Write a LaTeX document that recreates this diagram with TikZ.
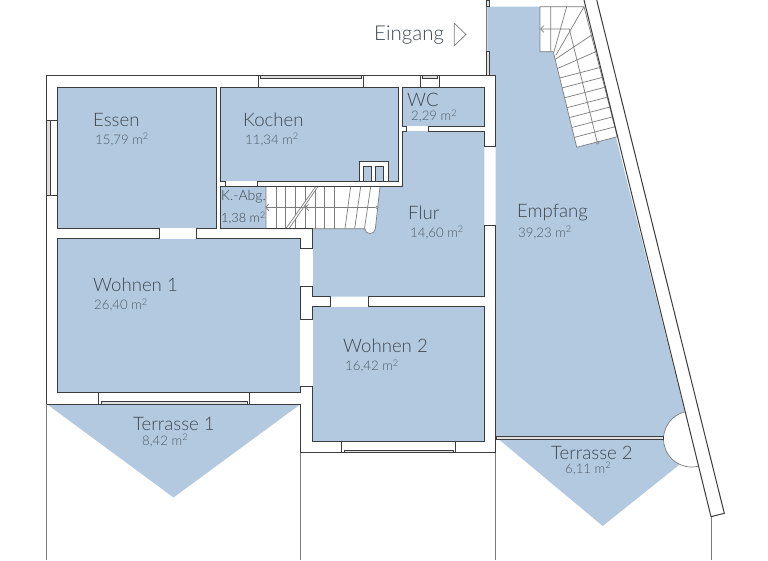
\documentclass[tikz,border=0pt]{standalone}
\usepackage{fontspec}
\setmainfont{Lato Light}
\definecolor{roomblue}{HTML}{B2C9DF}
\definecolor{wallgray}{HTML}{3C3C3C}
\definecolor{stepgray}{HTML}{7D7D7D}
\definecolor{namegray}{HTML}{3F4750}
\definecolor{areagray}{HTML}{4F5B68}
\tikzset{
  room/.style={fill=roomblue,draw=wallgray,line width=1pt},
  terrace/.style={fill=roomblue,draw=none},
  wallline/.style={draw=wallgray,line width=1pt},
  thinline/.style={draw=stepgray,line width=.7pt},
  stepline/.style={draw=stepgray,line width=.7pt},
  glass/.style={fill=gray!25,draw=wallgray,line width=.6pt},
  doorgap/.style={fill=white,draw=none},
  roomname/.style={text=namegray,font=\fontsize{18.6}{20}\selectfont,inner sep=0pt,anchor=west},
  roomarea/.style={text=areagray,font=\fontsize{13.2}{15}\selectfont,inner sep=0pt,anchor=west},
  flightdot/.style={circle,draw=stepgray,fill=stepgray!50,inner sep=0pt,minimum size=3pt},
}
\newcommand{\qm}{m\textsuperscript{2}}
\begin{document}
\begin{tikzpicture}[x=1pt,y=-1pt,line join=miter,>=stealth]
    \useasboundingbox (0,0) rectangle (768,560);
    % outside lines
    \draw[thinline] (46.7,404)--(46.7,560) (300.7,453)--(300.7,560) (495.7,453)--(495.7,560) (711,516.7)--(711,560);
    % terraces and hall
    \fill[terrace] (46.7,404)--(300.7,404)--(173.5,497.5)--cycle;
    \fill[terrace] (496,437)--(670,437)--(681,463.4)--(602.7,526)--cycle;
    \fill[terrace] (487.3,6.7)--(583.3,6.7)--(691.5,439)--(670,437)--(495.7,437)--(495.7,75.3)--(487.3,75.3)--cycle;
    % rooms
    \draw[room] (57.7,87) rectangle (216.7,228.7);
    \draw[room] (220.7,87) rectangle (398.3,181.3);
    \draw[room] (402.3,87) rectangle (484.3,126.3);
    \draw[room] (220.7,186) rectangle (266,228.7);
    \draw[room] (57.7,238.3) rectangle (300.7,392.7);
    \draw[room] (312.3,306) rectangle (484.3,441.3);
    \fill[roomblue] (402.3,131)--(484.3,131)--(484.3,296.7)--(312.3,296.7)--(312.3,186)--(402.3,186)--cycle;
    % door gaps
    \fill[doorgap] (159.8,228) rectangle (196.2,239);
    \fill[doorgap] (225.5,180.6) rectangle (256.8,186);
    \fill[doorgap] (406.5,125.6) rectangle (427.8,131);
    \fill[doorgap] (331.2,296.7) rectangle (367.8,306.7);
    \fill[doorgap] (300,249.2) rectangle (313,285.5);
    \fill[doorgap] (300,319.8) rectangle (313,386.2);
    % stairs flur
    \filldraw[fill=white,draw=stepgray,line width=.7pt] (266,186.5)--(380,186.5)--(375.3,229) .. controls (375,235) and (365,235) .. (365,229)--(365,228.7)--(266,228.7)--cycle;
    \foreach \sx in {276,285.5,295,305,315.5,324.7,334.7}
      \draw[stepline] (\sx,186.5)--(\sx,228.5);
    \draw[stepline] (350.7,186.5)--(345,228.5) (360.7,186.5)--(354.7,228.5) (370.7,186.5)--(364.5,228.5);
    \fill[white] (315.7,186.5)--(318,186.5)--(289,228.5)--(286,228.5)--cycle;
    \draw[stepline] (315.7,186.5)--(286,228.5) (318,186.5)--(289,228.5);
    \coordinate (flurend) at (377,207.3);
    \coordinate (flurtip) at (266,207.3);
    \node[flightdot] (flurdot) at (flurend) {};
    \draw[stepline] (flurdot)--(flurtip);
    \draw[stepline] (268.7,204)--(flurtip)--(268.7,210.6) (308.7,204)--(305.7,207.3)--(308.7,210.6);
    % walls of the hall
    \draw[wallline] (46.7,404)--(46.7,75.3)--(495.7,75.3)--(495.7,146)--(484.3,146)--(484.3,131)--(428.3,131)--(428.3,126.3);
    \draw[wallline] (406,126.3)--(406,131)--(402.3,131)--(402.3,186)--(257.3,186)--(257.3,181.3);
    \draw[wallline] (225,181.3)--(225,186)--(220.7,186);
    \draw[wallline] (46.7,404)--(300.7,404)--(300.7,452.7)--(495.7,452.7)--(495.7,225)--(484.3,225)--(484.3,296.7)--(368.3,296.7)--(368.3,306);
    \draw[wallline] (330.7,306)--(330.7,296.7)--(312.3,296.7)--(312.3,286)--(300.7,286)--(300.7,319.3)--(312.3,319.3);
    \draw[wallline] (300.7,392.7)--(300.7,386.7)--(312.3,386.7)--(312.3,392.7);
    \draw[wallline] (300.7,238.3)--(300.7,248.7)--(312.3,248.7)--(312.3,228.7)--(266,228.7);
    \draw[wallline] (159.3,228.7)--(159.3,238.3);
    \draw[wallline] (196.7,228.7)--(196.7,238.3);
    % chimney
    \filldraw[fill=white,draw=wallgray,line width=1pt] (359.3,181.3)--(359.3,161.7)--(388,161.7)--(388,181.3);
    \draw[wallline,fill=roomblue] (363.3,166) rectangle (371.5,181.3);
    \draw[wallline,fill=roomblue] (375.3,166) rectangle (383.7,181.3);
    % windows
    \draw[wallline] (57.7,120)--(46.7,120) (57.7,195)--(46.7,195);
    \draw[glass] (46.7,120) rectangle (50,195);
    \draw[wallline] (258,75.3)--(258,87) (363.3,75.3)--(363.3,87);
    \draw[glass] (260,75.3) rectangle (361,78);
    \draw[wallline] (420,75.3)--(420,87) (439,75.3)--(439,87);
    \draw[glass] (422,75.3) rectangle (437,78);
    \draw[wallline] (98.3,392.7)--(98.3,404) (249,392.7)--(249,404);
    \draw[glass] (101,401.5) rectangle (247,404);
    \draw[wallline] (341.7,441.3)--(341.7,452.7) (455,441.3)--(455,452.7);
    \draw[glass] (344,450.3) rectangle (453,452.7);
    % terrace door
    \begin{scope}
      \clip (584,0)--(711,516.7)--(400,516.7)--(400,0)--cycle;
      \filldraw[fill=white,draw=stepgray,line width=.7pt] (691.5,439) circle (28);
    \end{scope}
    \draw[glass,line width=.8pt] (496,436.7) rectangle (663.3,439.5);
    % diagonal wall
    \fill[white] (583,0)--(596.7,0)--(724.3,513.3)--(711,516.7)--cycle;
    % upper stairs
    \filldraw[fill=white,draw=stepgray,line width=.7pt] (540,6.7)--(584,6.7)--(617.3,136.7)--(576.7,147.3)--(553.3,51.7)--(540,51.7)--cycle;
    \draw[stepline] (550.7,6.7)--(550.7,51.7) (566.7,6.7)--(554,51.7) (584,6.7)--(556,55)
      (591.7,35)--(555.3,59.3) (595.7,51.7)--(558,68.3);
    \foreach \k in {1,...,7}
      \draw[stepline] (576.7-\k*2.43,147.3-\k*9.9)--+(40.6,-10.6);
    \coordinate (stairend) at (597.3,142.7);
    \coordinate (stairbend) at (569.3,29);
    \coordinate (stairtip) at (540.7,29);
    \node[flightdot] (stairdot) at (stairend) {};
    \draw[stepline] (stairdot)--(stairbend)--(stairtip);
    \draw[stepline] (543.7,25.7)--(stairtip)--(543.7,32.3);
    \draw[wallline] (584,0)--(711,516.7)--(724.3,513.3)--(596.7,0);
    % entrance door
    \draw[thinline] (486.8,6.7)--(486.8,51.7);
    \draw[glass,line width=.8pt] (486.8,0) rectangle (489.7,6.7);
    \draw[glass,line width=.8pt] (486.8,51.7) rectangle (489.7,75.3);
    % labels
    \node[roomname] (essen) at (93,120) {Essen};
    \node[roomarea] (essenarea) at (95,139.5) {15,79 \qm};
    \node[roomname] (kochen) at (243,120) {Kochen};
    \node[roomarea] (kochenarea) at (245,139.5) {11,34 \qm};
    \node[roomname] (wc) at (407,99.5) {WC};
    \node[roomarea] (wcarea) at (411,116) {2,29 \qm};
    \node[roomname,font=\fontsize{14}{16}\selectfont] (kabg) at (221,197) {K.-Abg.};
    \node[roomname,font=\fontsize{12.8}{15}\selectfont] (kabgarea) at (221,218) {1,38 \qm};
    \node[roomname] (flur) at (408,212.5) {Flur};
    \node[roomarea] (flurarea) at (410,232.5) {14,60 \qm};
    \node[roomname] (empfang) at (517,212.5) {Empfang};
    \node[roomarea] (empfangarea) at (518,232.5) {39,23 \qm};
    \node[roomname] (wohnen1) at (93,285) {Wohnen 1};
    \node[roomarea] (wohnen1area) at (94,305) {26,40 \qm};
    \node[roomname] (wohnen2) at (343,346) {Wohnen 2};
    \node[roomarea] (wohnen2area) at (345,366) {16,42 \qm};
    \node[roomname] (terrasse1) at (133,423.5) {Terrasse 1};
    \node[roomarea] (terrasse1area) at (142,440.5) {8,42 \qm};
    \node[roomname] (terrasse2) at (551,452.5) {Terrasse 2};
    \node[roomarea] (terrasse2area) at (565,468.5) {6,11 \qm};
    \node[roomname,font=\fontsize{20.5}{22}\selectfont] (eingang) at (374,35.5) {Eingang};
    \draw[thinline] (454.3,23.3)--(466,34.5)--(454.3,45.7)--cycle;
\end{tikzpicture}
\end{document}
